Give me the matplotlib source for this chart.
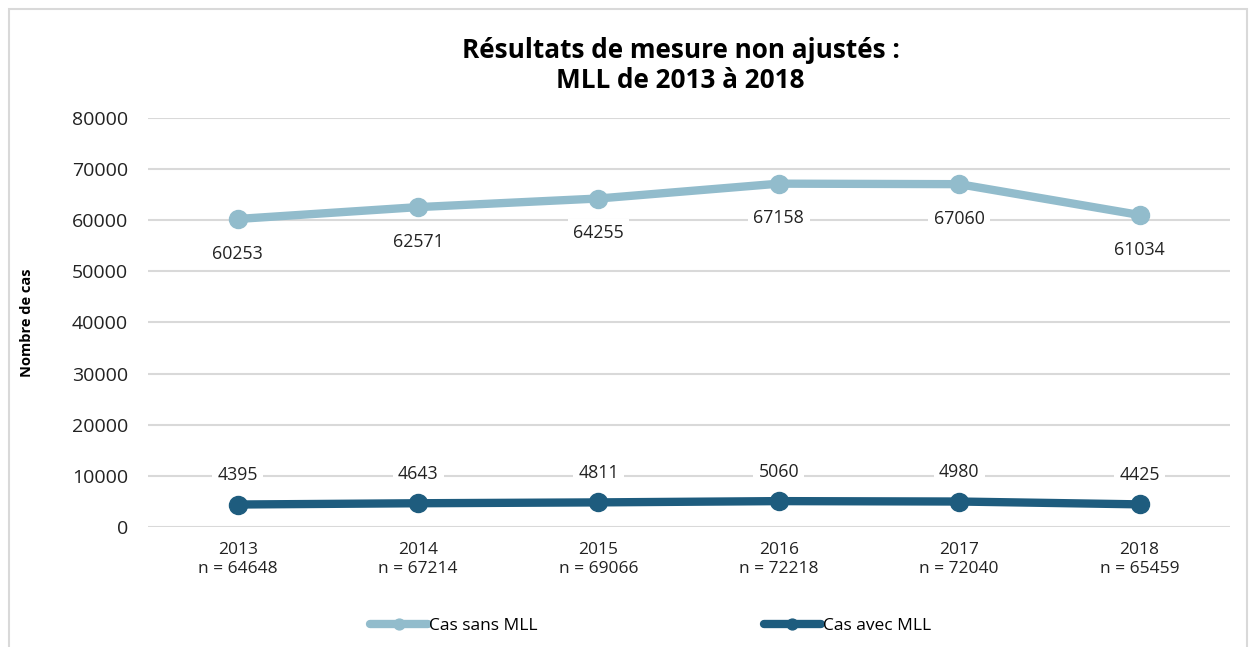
import matplotlib
matplotlib.use("Agg")
import matplotlib.pyplot as plt
from matplotlib.patches import Rectangle

plt.rcParams['font.family'] = ['Open Sans', 'DejaVu Sans']

years = ["2013", "2014", "2015", "2016", "2017", "2018"]
n_totals = [64648, 67214, 69066, 72218, 72040, 65459]
sans_mll = [60253, 62571, 64255, 67158, 67060, 61034]
avec_mll = [4395, 4643, 4811, 5060, 4980, 4425]

light = "#92BCCC"
dark = "#1E5C7E"
grid = "#D9D9D9"

fig = plt.figure(figsize=(12.51, 6.47), dpi=100)
ax = fig.add_axes([0.118, 0.1855, 0.865, 0.6321])

# outer chart border
fig.patches.append(Rectangle((9 / 1251, -0.01), 1238 / 1251, 1 - 9 / 647 + 0.01,
                             transform=fig.transFigure, fill=False,
                             edgecolor=grid, linewidth=1.5))

x = list(range(len(years)))
ax.plot(x, sans_mll, color=light, lw=6, marker="o", ms=13,
        solid_capstyle="round", label="Cas sans MLL", zorder=3)
ax.plot(x, avec_mll, color=dark, lw=6, marker="o", ms=13,
        solid_capstyle="round", label="Cas avec MLL", zorder=3)

for i in x:
    ax.annotate(str(sans_mll[i]), (i, sans_mll[i]), xytext=(0, -25),
                textcoords="offset points", ha="center", va="center",
                fontsize=12.8, color="#222222",
                bbox=dict(boxstyle="square,pad=0.3", fc="white", ec="none"),
                zorder=4)
    ax.annotate(str(avec_mll[i]), (i, avec_mll[i]), xytext=(0, 21),
                textcoords="offset points", ha="center", va="center",
                fontsize=12.8, color="#222222",
                bbox=dict(boxstyle="square,pad=0.3", fc="white", ec="none"),
                zorder=4)

ax.set_xlim(-0.5, len(years) - 0.5)
ax.set_ylim(0, 80000)
ax.set_yticks(range(0, 80001, 10000))
ax.set_xticks(x)
ax.set_xticklabels([f"{y}\nn = {n}" for y, n in zip(years, n_totals)],
                   fontsize=12.5, color="#222222", linespacing=1.25)
ax.tick_params(axis="y", labelsize=14, colors="#222222", length=0, pad=14)
ax.tick_params(axis="x", length=0, pad=11)
ax.grid(axis="y", color=grid, lw=1.5, zorder=0)
for s in ax.spines.values():
    s.set_visible(False)

ax.set_ylabel("Nombre de cas", fontsize=10.5, fontweight="bold", labelpad=27)

fig.text(0.544, 0.899, "Résultats de mesure non ajustés :\nMLL de 2013 à 2018",
         ha="center", va="center", fontsize=18.8, fontweight="bold",
         linespacing=1.15)

leg = fig.legend(loc="center", bbox_to_anchor=(0.52, 0.032), ncol=2,
                 frameon=False, fontsize=12.5, columnspacing=13,
                 handlelength=3.3, handletextpad=0.1, markerscale=0.6)

fig.savefig("out.png", dpi=100)
